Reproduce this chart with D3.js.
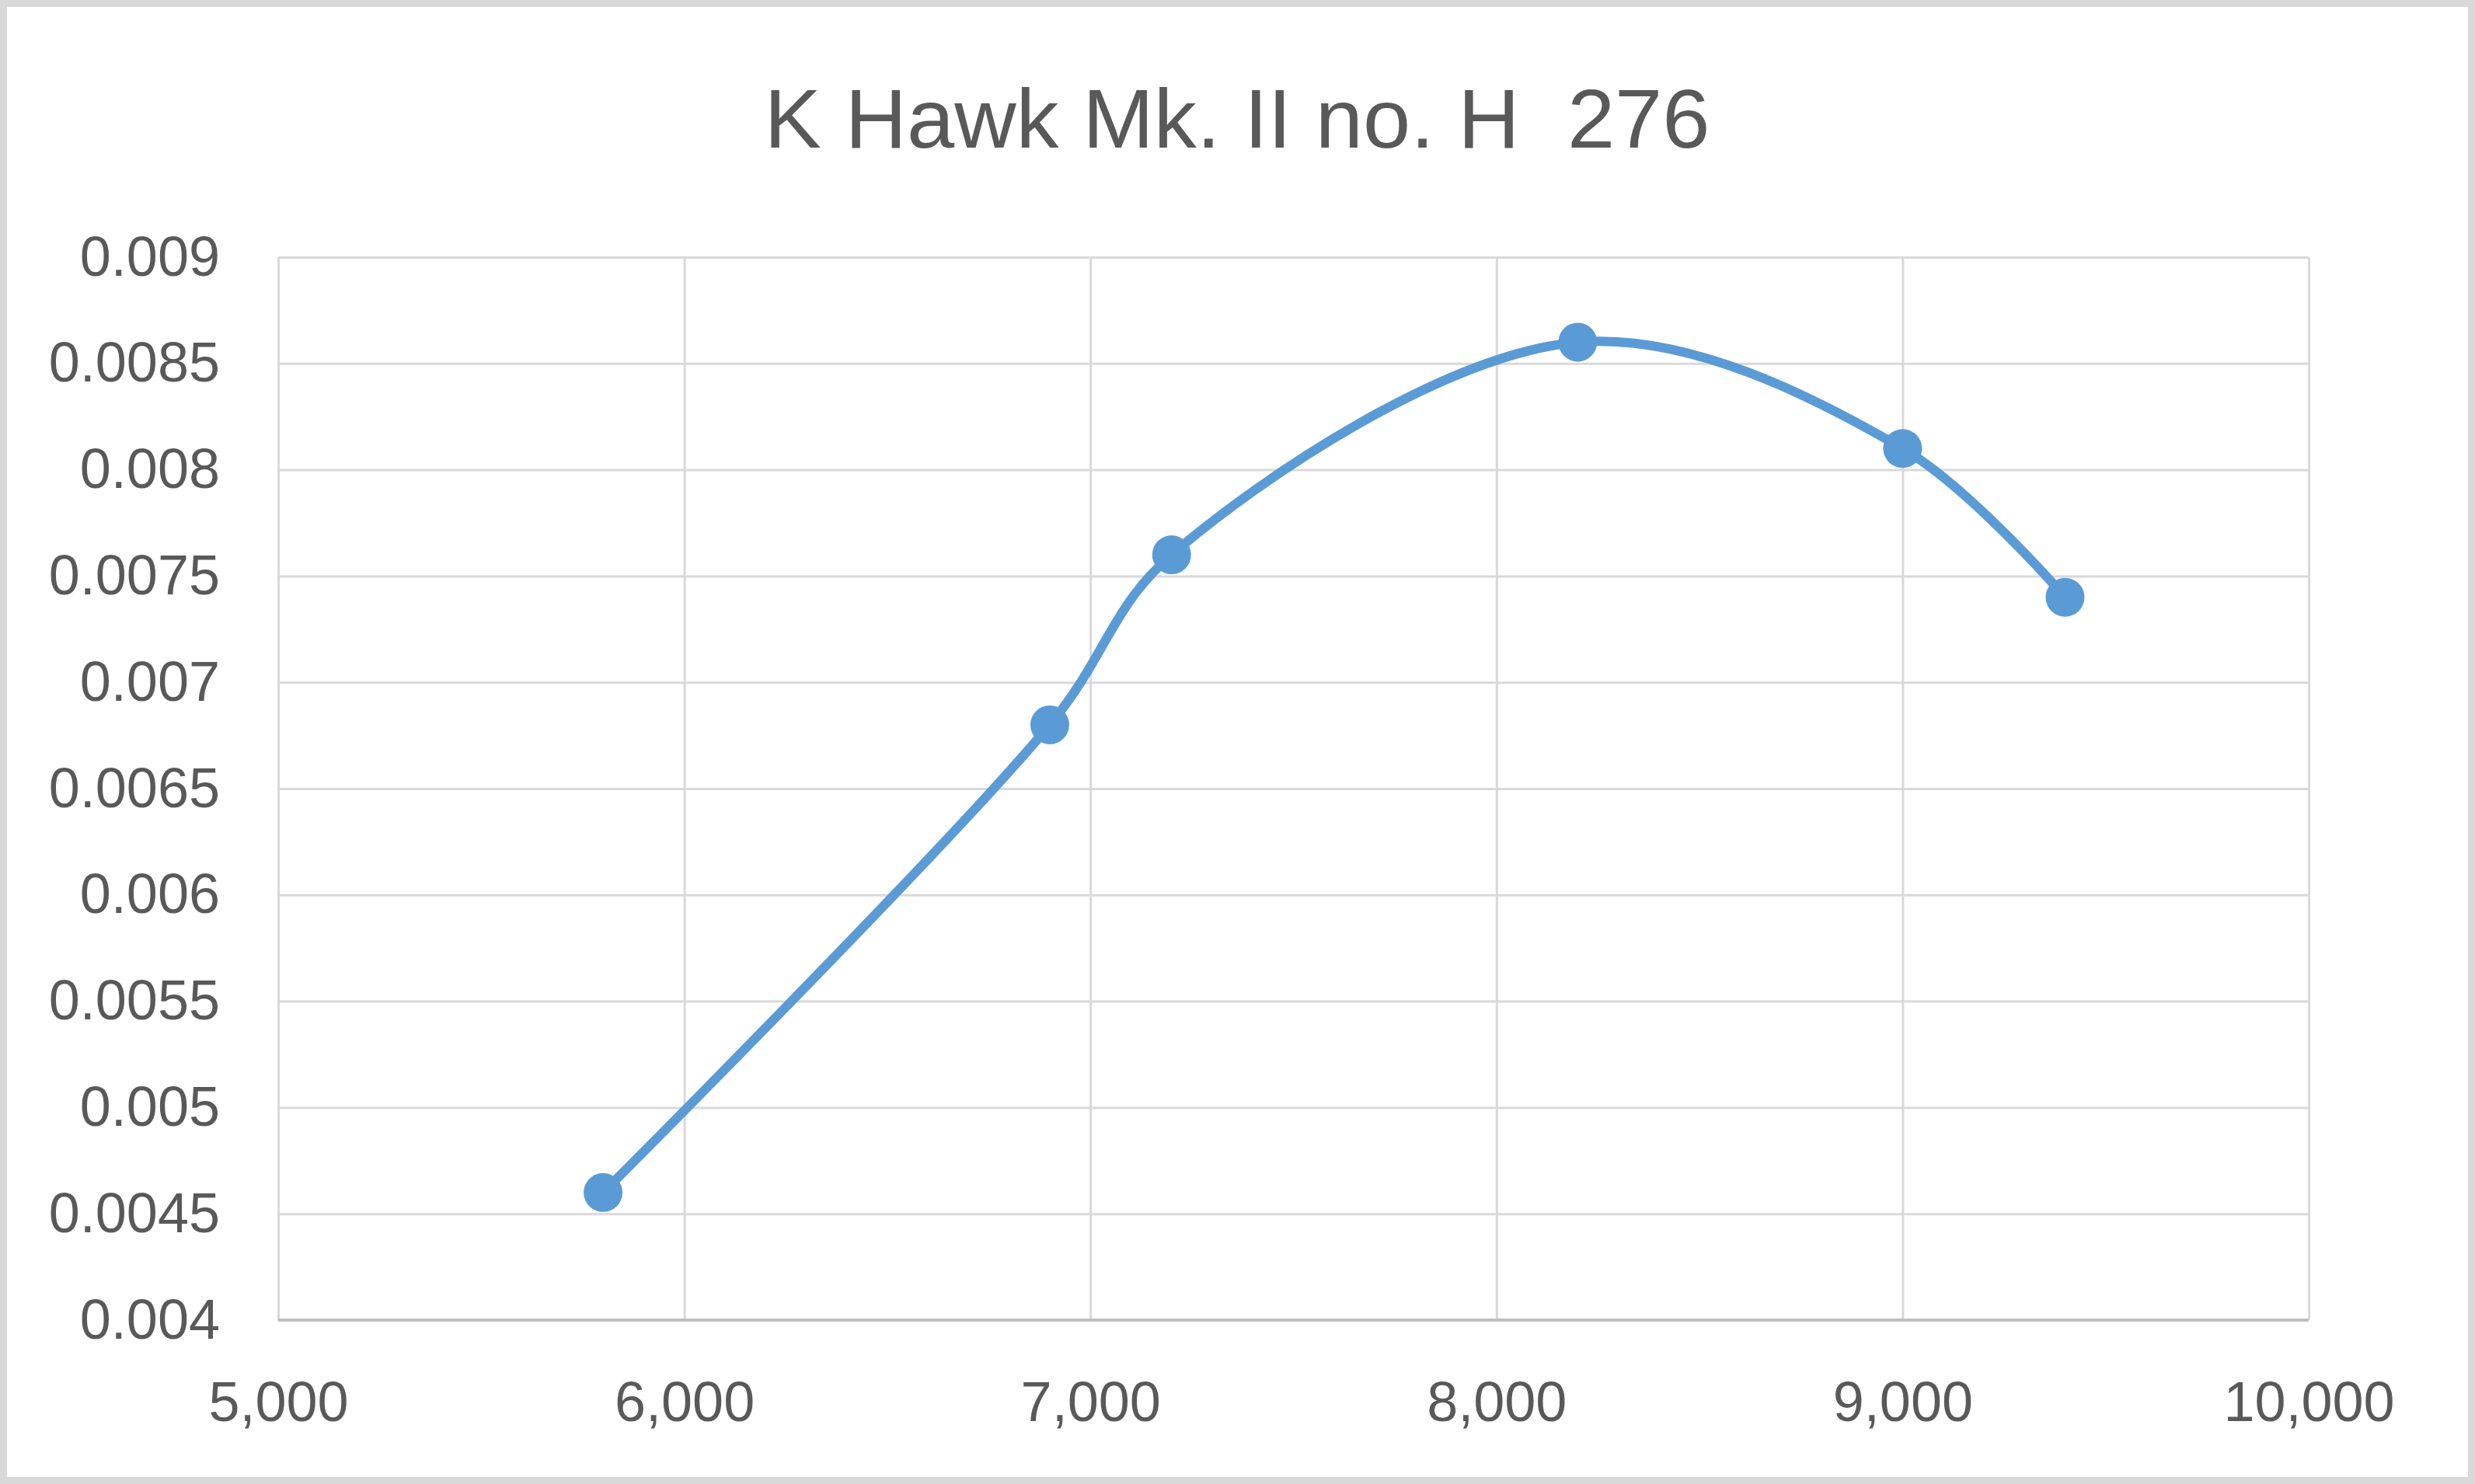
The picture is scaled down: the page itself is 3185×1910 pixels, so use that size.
<!DOCTYPE html>
<html>
<head>
<meta charset="utf-8">
<script src="https://cdn.jsdelivr.net/npm/d3@7"></script>
<style>
  html, body { margin: 0; padding: 0; background: #fff; }
  svg { display: block; }
  text { font-family: "Liberation Sans", Arial, sans-serif; fill: #595959; }
</style>
</head>
<body>
<svg id="chart" width="3185" height="1910"></svg>
<script>
const title = "K Hawk Mk. II no. H  276";
const xValues = [5800, 6900, 7200, 8200, 9000, 9400];
const yValues = [0.0046, 0.0068, 0.0076, 0.0086, 0.0081, 0.0074];
const xTicks = [5000, 6000, 7000, 8000, 9000, 10000];
const xTickLabels = ["5,000", "6,000", "7,000", "8,000", "9,000", "10,000"];
const yTicks = [0.004, 0.0045, 0.005, 0.0055, 0.006, 0.0065, 0.007, 0.0075, 0.008, 0.0085, 0.009];
const yTickLabels = ["0.004", "0.0045", "0.005", "0.0055", "0.006", "0.0065", "0.007", "0.0075", "0.008", "0.0085", "0.009"];

const W = 3185, H = 1910;
const plot = { left: 358, right: 2971, top: 331, bottom: 1699 };

const svg = d3.select("#chart");

svg.append("rect")
  .attr("x", 4.5).attr("y", 4.5)
  .attr("width", W - 9).attr("height", H - 9)
  .attr("fill", "#fff").attr("stroke", "#d9d9d9").attr("stroke-width", 9);

const x = d3.scaleLinear().domain([5000, 10000]).range([plot.left, plot.right]);
const y = d3.scaleLinear().domain([0.004, 0.009]).range([plot.bottom, plot.top]);

// Horizontal gridlines
const gy = svg.append("g")
  .attr("transform", `translate(${plot.left},0)`)
  .call(d3.axisLeft(y).tickValues(yTicks).tickSize(-(plot.right - plot.left)).tickFormat((d, i) => yTickLabels[i]).tickPadding(75));
gy.select(".domain").remove();
gy.selectAll(".tick line").attr("stroke", "#d9d9d9").attr("stroke-width", 3);
gy.selectAll(".tick text")
  .attr("font-size", 72)
  .attr("fill", "#595959")
  .style("font-family", '"Liberation Sans", Arial, sans-serif');

// Vertical gridlines
const gx = svg.append("g")
  .attr("transform", `translate(0,${plot.bottom})`)
  .call(d3.axisBottom(x).tickValues(xTicks).tickSize(-(plot.bottom - plot.top)).tickFormat((d, i) => xTickLabels[i]).tickPadding(79));
gx.select(".domain").remove();
gx.selectAll(".tick line").attr("stroke", "#d9d9d9").attr("stroke-width", 3);
gx.selectAll(".tick text")
  .attr("font-size", 72)
  .attr("fill", "#595959")
  .style("font-family", '"Liberation Sans", Arial, sans-serif');

// Bottom axis line
svg.append("line")
  .attr("x1", plot.left).attr("x2", plot.right)
  .attr("y1", plot.bottom).attr("y2", plot.bottom)
  .attr("stroke", "#bfbfbf").attr("stroke-width", 4);

// Title
const t = svg.append("text")
  .attr("x", 1592).attr("y", 190)
  .attr("text-anchor", "middle")
  .attr("font-size", 108)
  .style("white-space", "pre")
  .attr("fill", "#595959")
  .text(title);
const tl = t.node().getComputedTextLength();
if (Math.abs(tl - 1217) > 10) {
  t.attr("textLength", 1217).attr("lengthAdjust", "spacingAndGlyphs");
}

// Series
const data = xValues.map((v, i) => ({ x: v, y: yValues[i] }));
const line = d3.line()
  .x(d => x(d.x)).y(d => y(d.y))
  .curve(d3.curveCatmullRom.alpha(0.5));

svg.append("path")
  .datum(data)
  .attr("d", line)
  .attr("fill", "none")
  .attr("stroke", "#5b9bd5")
  .attr("stroke-width", 12)
  .attr("stroke-linecap", "round")
  .attr("stroke-linejoin", "round");

svg.append("g").selectAll("circle")
  .data(data).join("circle")
  .attr("cx", d => x(d.x)).attr("cy", d => y(d.y))
  .attr("r", 25)
  .attr("fill", "#5b9bd5");
</script>
</body>
</html>
